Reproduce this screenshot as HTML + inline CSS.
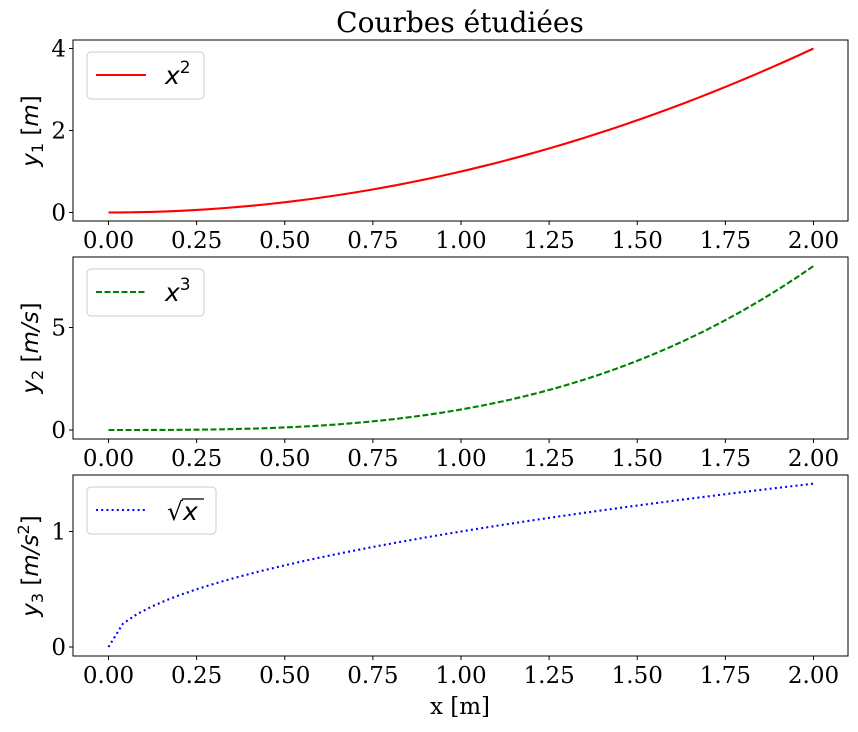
<!DOCTYPE html>
<html><head><meta charset="utf-8"><style>
body{margin:0;background:#fff}
svg text{font-family:"DejaVu Serif","Liberation Serif",serif;font-size:23px;fill:#000}
.yl{font-family:"DejaVu Sans","Liberation Sans",sans-serif;font-size:23px}
</style></head><body>
<svg id="s" width="858" height="727" xmlns="http://www.w3.org/2000/svg">
<text x="460" y="32" text-anchor="middle" style="font-size:28px">Courbes étudiées</text>
<text x="460" y="714" text-anchor="middle" style="font-size:23px">x [m]</text>
<g class="yl">
<text transform="translate(38,131) rotate(-90)" text-anchor="middle" class="yl"><tspan font-style="italic">y</tspan><tspan font-size="16" dy="5">1</tspan><tspan dy="-5"> [</tspan><tspan font-style="italic">m</tspan>]</text>
<text transform="translate(38,348) rotate(-90)" text-anchor="middle" class="yl"><tspan font-style="italic">y</tspan><tspan font-size="16" dy="5">2</tspan><tspan dy="-5"> [</tspan><tspan font-style="italic">m/s</tspan>]</text>
<text transform="translate(38,566) rotate(-90)" text-anchor="middle" class="yl"><tspan font-style="italic">y</tspan><tspan font-size="16" dy="5">3</tspan><tspan dy="-5"> [</tspan><tspan font-style="italic">m/s</tspan><tspan font-size="16" dy="-9">2</tspan><tspan dy="9">]</tspan></text>
</g>
<g id="g"></g>
</svg>
<script>
var g=document.getElementById('g'),h='';
var X0=108.5,XS=352.5,L=73,R=848;
function px(x){return X0+x*XS}
var axes=[
 {t:40,b:221,y0:212.5,ys:41,ticks:[0,2,4],f:function(x){return x*x},col:'red',dash:'',lab:'x',sup:'2',lw:117},
 {t:257,b:439,y0:430,ys:20.5,ticks:[0,5],f:function(x){return x*x*x},col:'green',dash:'6,2.5',lab:'x',sup:'3',lw:117},
 {t:475,b:656,y0:647,ys:115.5,ticks:[0,1],f:Math.sqrt,col:'blue',dash:'2,3.2',lab:'sqrt',lw:129}
];
axes.forEach(function(a){
 var p=[];for(var i=0;i<50;i++){var x=2*i/49;p.push(px(x).toFixed(2)+','+(a.y0-a.f(x)*a.ys).toFixed(2));}
 h+='<polyline points="'+p.join(' ')+'" fill="none" stroke="'+a.col+'" stroke-width="2.1" stroke-dasharray="'+a.dash+'"/>';
 h+='<rect x="'+L+'" y="'+a.t+'" width="'+(R-L)+'" height="'+(a.b-a.t)+'" fill="none" stroke="#000" stroke-width="1"/>';
 for(var k=0;k<9;k++){var x=px(k*0.25);h+='<line x1="'+x+'" y1="'+a.b+'" x2="'+x+'" y2="'+(a.b+4)+'" stroke="#000"/>';
  h+='<text x="'+x+'" y="'+(a.b+27)+'" text-anchor="middle">'+(k*0.25).toFixed(2)+'</text>';}
 a.ticks.forEach(function(v){var y=a.y0-v*a.ys;h+='<line x1="'+(L-4)+'" y1="'+y+'" x2="'+L+'" y2="'+y+'" stroke="#000"/>';
  h+='<text x="'+(L-7)+'" y="'+(y+8)+'" text-anchor="end">'+v+'</text>';});
 var ly=a.t+12;
 h+='<rect x="87" y="'+ly+'" width="'+a.lw+'" height="47" rx="4" fill="#fff" stroke="#ccc"/>';
 h+='<line x1="96" y1="'+(ly+23)+'" x2="146" y2="'+(ly+23)+'" stroke="'+a.col+'" stroke-width="2.1" stroke-dasharray="'+a.dash+'"/>';
 if(a.lab=='x'){h+='<text x="165" y="'+(ly+32)+'" class="yl" style="font-size:25px;font-style:italic">x<tspan font-size="17" dy="-11" font-style="normal">'+a.sup+'</tspan></text>';}
 else{h+='<text x="167" y="'+(ly+33)+'" class="yl" style="font-size:25px">√<tspan font-style="italic">x</tspan></text><line x1="182" y1="'+(ly+12)+'" x2="204" y2="'+(ly+12)+'" stroke="#000" stroke-width="1.3"/>';}
});
g.innerHTML=h;
</script>
</body></html>
